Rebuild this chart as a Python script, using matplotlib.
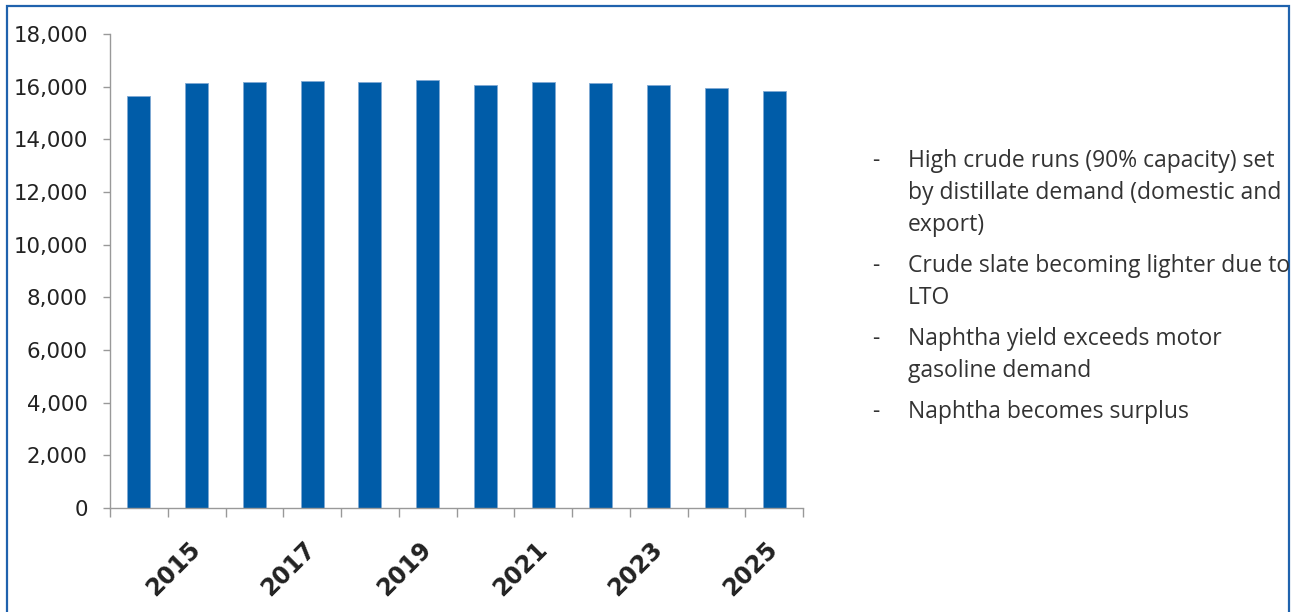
import matplotlib.pyplot as plt
import matplotlib.patches as patches
from matplotlib.ticker import FuncFormatter

years = list(range(2014, 2026))
runs = [15650, 16130, 16190, 16230, 16165, 16235, 16060, 16165, 16140, 16050, 15950, 15840]
label_years = [2015, 2017, 2019, 2021, 2023, 2025]
notes = [
    ['High crude runs (90% capacity) set', 'by distillate demand (domestic and', 'export)'],
    ['Crude slate becoming lighter due to', 'LTO'],
    ['Naphtha yield exceeds motor', 'gasoline demand'],
    ['Naphtha becomes surplus'],
]

W, H = 1298, 612
fig = plt.figure(figsize=(W / 100, H / 100), dpi=100)
ax = fig.add_axes([110 / W, 1 - 508 / H, 693 / W, 474 / H])

pos = list(range(len(years)))
ax.bar(pos, runs, width=0.4, color='#005ca8', edgecolor='#7fa9d3', linewidth=0.6)

ax.set_xlim(-0.5, len(years) - 0.5)
ax.set_ylim(0, 18000)
ax.set_yticks(range(0, 18001, 2000))
ax.yaxis.set_major_formatter(FuncFormatter(lambda v, p: '{:,.0f}'.format(v)))
ax.tick_params(axis='y', length=5, width=1, color='#999999', pad=11, labelsize=15.3, labelcolor='#222222')

# labels on odd years, tick marks between the bars
ax.set_xticks([years.index(y) for y in label_years])
ax.set_xticklabels([str(y) for y in label_years], rotation=45, ha='right', va='center',
                   rotation_mode='anchor', fontsize=17, fontweight='bold', color='#222222')
ax.tick_params(axis='x', which='major', length=0, pad=27)
ax.set_xticks([p - 0.5 for p in pos] + [pos[-1] + 0.5], minor=True)
ax.tick_params(axis='x', which='minor', length=6.5, width=1, color='#999999')

for s in ['top', 'right']:
    ax.spines[s].set_visible(False)
for s in ['left', 'bottom']:
    ax.spines[s].set_color('#999999')
    ax.spines[s].set_linewidth(1)

# bullet text on the right
y = 161
for para in notes:
    for i, line in enumerate(para):
        if i == 0:
            fig.text(872 / W, 1 - y / H, '-', fontsize=16.5, color='#333333', va='center', family='Open Sans')
        fig.text(908 / W, 1 - y / H, line, fontsize=16.5, color='#333333', va='center', family='Open Sans')
        y += 32
    y += 9

# frame round the figure
fig.patches.append(patches.Rectangle((7 / W, -0.05), 1282 / W, 1.05 - 6 / H, transform=fig.transFigure,
                                     fill=False, edgecolor='#1f62ad', linewidth=1.6))

fig.savefig('out.png', dpi=100)
plt.close(fig)
